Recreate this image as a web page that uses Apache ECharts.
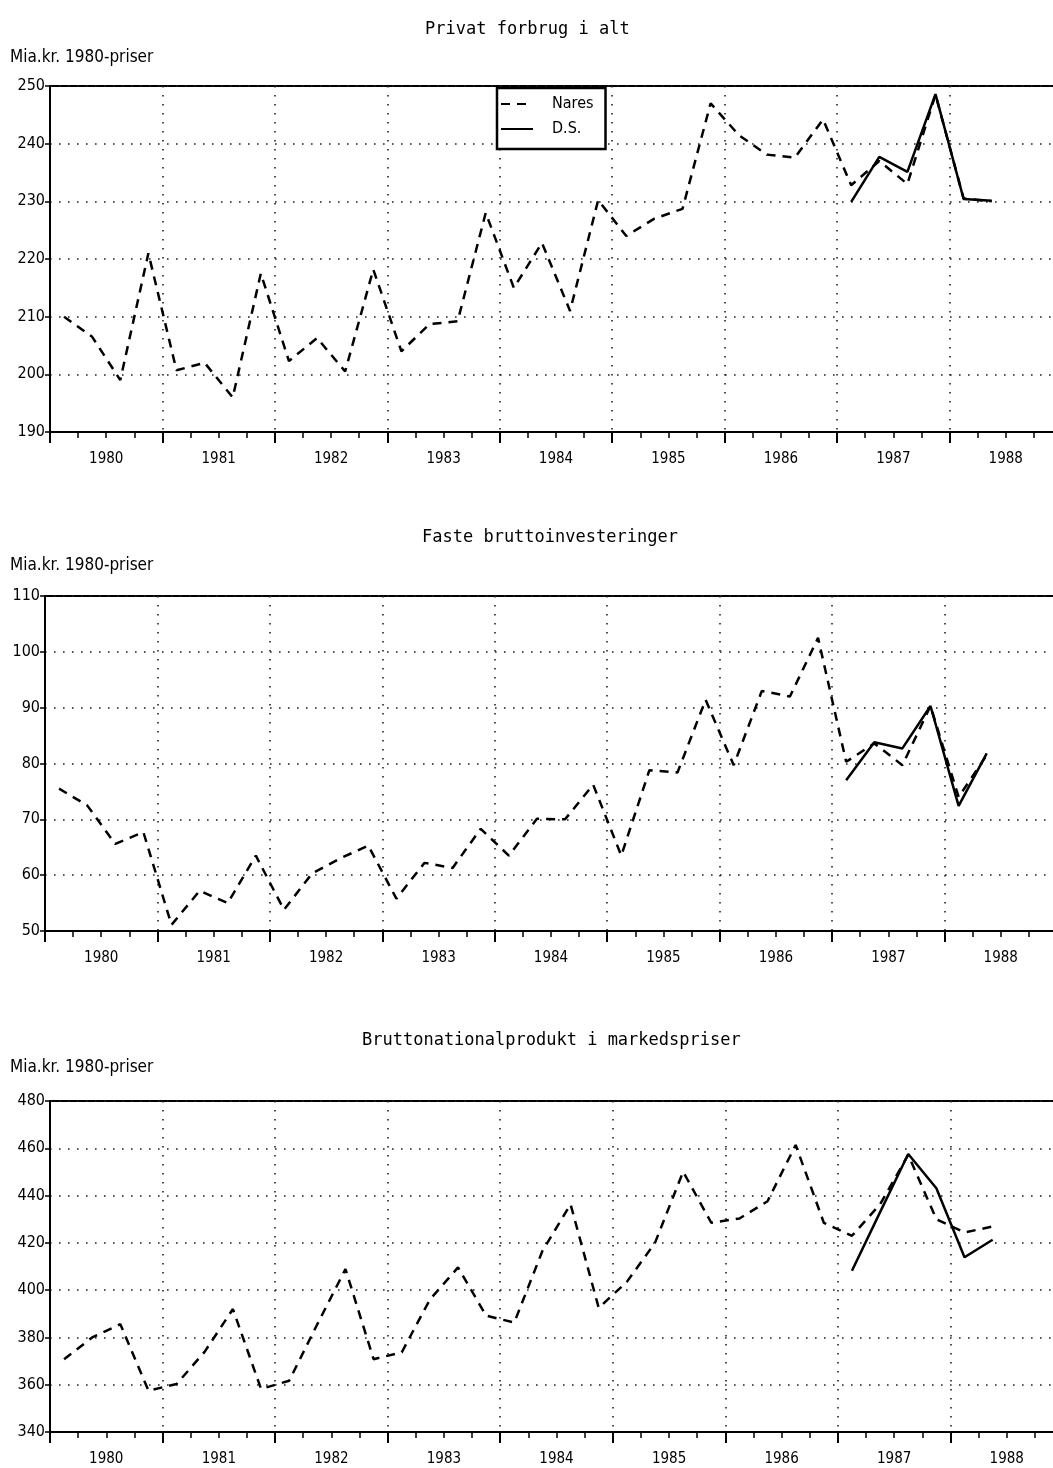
<!DOCTYPE html>
<html><head><meta charset="utf-8">
<script src="https://cdn.jsdelivr.net/npm/echarts@6/dist/echarts.min.js"></script>
<style>html,body{margin:0;padding:0;background:#fff;overflow:hidden}#c{width:1070px;height:1468px}</style>
</head><body><div id="c"></div><script>
// ---- data ----
const years = ['1980','1981','1982','1983','1984','1985','1986','1987','1988'];
const quarterNames = ['K1','K2','K3','K4'];
const titles = ['Privat forbrug i alt', 'Faste bruttoinvesteringer', 'Bruttonationalprodukt i markedspriser'];
const unitLabel = 'Mia.kr. 1980-priser';
const seriesNames = ['Nares', 'D.S.'];
const dsFirstQuarter = '1987K1';

// Privat forbrug i alt (1980K1 - 1988K2)
const privatNares = [
  210, 206.5, 199, 221,
  200.7, 202, 196, 217.5,
  202.3, 206.3, 200.5, 218.2,
  204, 208.7, 209.2, 228,
  215, 222.8, 211, 230.2,
  224, 227, 228.7, 247,
  241.5, 238.1, 237.6, 244.2,
  232.8, 237, 233, 248.5,
  230.5, 230
];
const privatDS = [229.9, 237.7, 235.1, 248.6, 230.4, 230.1];

// Faste bruttoinvesteringer
const investNares = [
  75.5, 72.5, 65.6, 67.7,
  51.1, 57.2, 55, 63.5,
  53.8, 60.3, 63, 65.3,
  55.8, 62.2, 61.3, 68.3,
  63.5, 70.1, 70, 76.2,
  63.5, 78.8, 78.4, 91.4,
  79.7, 93, 92, 102.5,
  80.3, 83.6, 79.7, 90.3,
  74, 81.5
];
const investDS = [77, 83.8, 82.7, 90.3, 72.4, 81.8];

// Bruttonationalprodukt i markedspriser
const bnpNares = [
  370.8, 380, 385.6, 357.5,
  360.3, 374, 392, 358.2,
  361.7, 385.6, 408.9, 370.8,
  373.7, 396, 409.6, 389.2,
  386.3, 416.6, 436.3, 392.5,
  403.5, 420, 450.1, 428.5,
  430.3, 437.6, 461.4, 428.5,
  423, 436.3, 457.2, 430,
  424.4, 426.9
];
const bnpDS = [408.2, 433, 457.6, 443.1, 413.9, 421.3];

const yRanges = [[190, 250, 10], [50, 110, 10], [340, 480, 20]];

// ---- build ----
const quarters = [];
years.forEach(y => quarterNames.forEach(q => quarters.push(y + q)));
const dsStart = quarters.indexOf(dsFirstQuarter);
function padDS(arr) { return new Array(dsStart).fill(null).concat(arr); }

const FONT = '"DejaVu Sans Condensed","Liberation Sans Narrow","DejaVu Sans",sans-serif';
const MONO = '"DejaVu Sans Mono","Liberation Mono",monospace';
const BLACK = '#000';
const DOT = {color: '#222', width: 1.6, type: [1.6, 7.4]};

const grids = [
  {left: 50, top: 86, width: 1012, height: 346},
  {left: 45, top: 596, width: 1012, height: 335},
  {left: 50, top: 1101, width: 1013, height: 331}
];
const titlePos = [{left: 425, top: 21}, {left: 422, top: 529}, {left: 362, top: 1032}];
const unitPos = [49, 557, 1059];

const option = {
  animation: false,
  backgroundColor: '#fff',
  title: [],
  grid: grids.map(g => Object.assign({show: true, borderColor: BLACK, borderWidth: 2, backgroundColor: 'transparent'}, g)),
  xAxis: [], yAxis: [], series: [],
  legend: {
    data: seriesNames,
    orient: 'vertical', left: 497, top: 88,
    backgroundColor: '#fff', borderColor: BLACK, borderWidth: 2.5, borderRadius: 0,
    padding: [8, 12, 12, 3],
    itemWidth: 32, itemHeight: 14, itemGap: 9,
    selectedMode: false,
    itemStyle: {color: 'rgba(0,0,0,0)', borderWidth: 0, opacity: 0},
    textStyle: {color: BLACK, fontFamily: FONT, fontSize: 16, padding: [0, 0, 0, 14]}
  }
};

titles.forEach((t, i) => {
  option.title.push({text: t, left: titlePos[i].left, top: titlePos[i].top, padding: 0,
    textStyle: {color: BLACK, fontFamily: MONO, fontSize: 17, fontWeight: 'normal'}});
  option.title.push({text: unitLabel, left: 10, top: unitPos[i], padding: 0,
    textStyle: {color: BLACK, fontFamily: FONT, fontSize: 17, fontWeight: 'normal'}});
});

const datasets = [[privatNares, privatDS], [investNares, investDS], [bnpNares, bnpDS]];

datasets.forEach((ds, gi) => {
  option.xAxis.push({
    type: 'category', gridIndex: gi, data: quarters, boundaryGap: true, position: 'bottom',
    axisLine: {show: true, lineStyle: {color: BLACK, width: 2}},
    axisTick: {show: true, interval: 0, length: 6, lineStyle: {color: BLACK, width: 1.5}},
    axisLabel: {show: false}, splitLine: {show: false}
  });
  option.xAxis.push({
    type: 'category', gridIndex: gi, data: years, boundaryGap: true, position: 'bottom',
    axisLine: {show: false},
    axisTick: {show: true, interval: 0, length: 11, lineStyle: {color: BLACK, width: 2}},
    axisLabel: {show: true, interval: 0, margin: 20, color: BLACK, fontFamily: FONT, fontSize: 15},
    splitLine: {show: true, interval: 0, lineStyle: DOT}
  });
  const r = yRanges[gi];
  option.yAxis.push({
    type: 'value', gridIndex: gi, min: r[0], max: r[1], interval: r[2],
    axisLine: {show: true, lineStyle: {color: BLACK, width: 2}},
    axisTick: {show: true, inside: false, length: 5, lineStyle: {color: BLACK, width: 1.5}},
    axisLabel: {color: BLACK, fontFamily: FONT, fontSize: 16, margin: 5},
    splitLine: {show: true, lineStyle: DOT}
  });
  option.series.push({
    name: seriesNames[0], type: 'line', xAxisIndex: gi * 2, yAxisIndex: gi,
    data: ds[0], symbol: 'none', z: 3,
    lineStyle: {color: BLACK, width: 2.5, type: [9, 7]}, itemStyle: {color: BLACK}
  });
  option.series.push({
    name: seriesNames[1], type: 'line', xAxisIndex: gi * 2, yAxisIndex: gi,
    data: padDS(ds[1]), symbol: 'none', z: 4,
    lineStyle: {color: BLACK, width: 2.5, type: 'solid'}, itemStyle: {color: BLACK}
  });
});

const chart = echarts.init(document.getElementById('c'), null, {renderer: 'canvas'});
chart.setOption(option);
</script></body></html>
